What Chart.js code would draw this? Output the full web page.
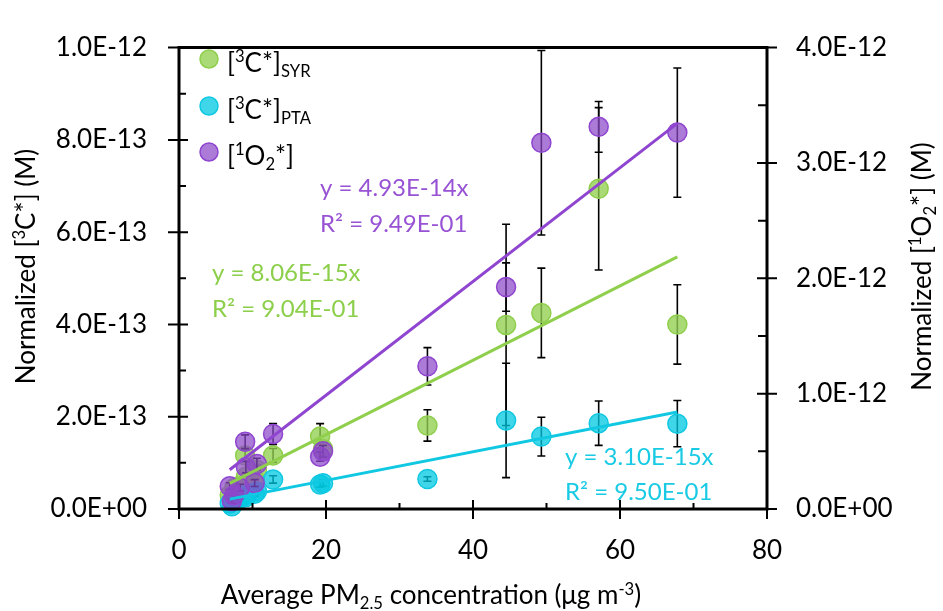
<!DOCTYPE html>
<html><head><meta charset="utf-8">
<script src="https://cdn.jsdelivr.net/npm/chart.js@4.4.1/dist/chart.umd.min.js"></script>
<style>html,body{margin:0;padding:0;background:#fff}</style>
</head><body>
<canvas id="c" width="943" height="611"></canvas>
<script>
// ---------------- DATA ----------------
const pm25   = [6.9, 7.2, 7.5, 8.3, 9.0, 9.1, 10.3, 10.6, 12.8, 19.2, 19.6, 33.8, 44.5, 49.3, 57.1, 67.8];
const c3Syr  = [3.0e-14, 2.0e-14, 4.5e-14, 5.0e-14, 1.16e-13, 7.0e-14, 6.5e-14, 8.5e-14, 1.16e-13, 1.57e-13, 1.30e-13, 1.81e-13, 3.99e-13, 4.25e-13, 6.94e-13, 4.00e-13];
const c3SyrErr = [5e-15, 4e-15, 6e-15, 6e-15, 1.2e-14, 8e-15, 8e-15, 1e-14, 1.5e-14, 2.8e-14, 1.5e-14, 3.4e-14, 2.18e-13, 9.7e-14, 1.76e-13, 8.6e-14];
const c3Pta  = [1.2e-14, 6e-15, 1.8e-14, 2.2e-14, 3.0e-14, 2.6e-14, 3.3e-14, 3.8e-14, 6.4e-14, 5.3e-14, 5.6e-14, 6.5e-14, 1.92e-13, 1.57e-13, 1.86e-13, 1.85e-13];
const c3PtaErr = [3e-15, 2e-15, 4e-15, 4e-15, 5e-15, 5e-15, 5e-15, 6e-15, 8e-15, 6e-15, 6e-15, 5e-15, 1.24e-13, 4.2e-14, 4.8e-14, 5.0e-14];
const o2     = [0.198e-12, 0.07e-12, 0.12e-12, 0.184e-12, 0.583e-12, 0.363e-12, 0.225e-12, 0.39e-12, 0.65e-12, 0.454e-12, 0.50e-12, 1.237e-12, 1.924e-12, 3.175e-12, 3.313e-12, 3.263e-12];
const o2Err  = [0.03e-12, 0.02e-12, 0.03e-12, 0.03e-12, 0.06e-12, 0.05e-12, 0.03e-12, 0.05e-12, 0.09e-12, 0.04e-12, 0.05e-12, 0.162e-12, 0.21e-12, 0.80e-12, 0.22e-12, 0.56e-12];

const fitSlopes = [8.06e-15, 3.10e-15, 4.93e-14];
const fitEqLabels = ['y = 8.06E-15x', 'y = 3.10E-15x', 'y = 4.93E-14x'];
const fitR2Labels = ['R\u00B2 = 9.04E-01', 'R\u00B2 = 9.50E-01', 'R\u00B2 = 9.49E-01'];

const xTickVals = [0, 20, 40, 60, 80];
const xTickLabels = ['0', '20', '40', '60', '80'];
const xMinorVals = [10, 30, 50, 70];
const yTickVals = [0, 2e-13, 4e-13, 6e-13, 8e-13, 1e-12];
const yTickLabels = ['0.0E+00', '2.0E-13', '4.0E-13', '6.0E-13', '8.0E-13', '1.0E-12'];
const yMinorVals = [1e-13, 3e-13, 5e-13, 7e-13, 9e-13];
const y2TickVals = [0, 1e-12, 2e-12, 3e-12, 4e-12];
const y2TickLabels = ['0.0E+00', '1.0E-12', '2.0E-12', '3.0E-12', '4.0E-12'];
const y2MinorVals = [0.5e-12, 1.5e-12, 2.5e-12, 3.5e-12];

// ---------------- STYLE ----------------
const FONT = 'Lato, "Open Sans", sans-serif';
const COL = {
  syr: {fill: 'rgba(146,208,80,0.78)', line: '#8fcf4c', text: '#8ccf4a'},
  pta: {fill: 'rgba(0,200,226,0.75)', line: '#10c8e2', text: '#18cae4'},
  o2:  {fill: 'rgba(140,70,200,0.72)', line: '#8f45d0', text: '#9853d4'}
};

const pts = (xs, ys) => xs.map((x, i) => ({x, y: ys[i]}));
const xMin = Math.min(...pm25), xMax = Math.max(...pm25);
const fitLine = s => [{x: xMin, y: s * xMin}, {x: xMax, y: s * xMax}];

function scatterDs(label, ys, errs, c, axis, order) {
  return {type: 'scatter', label, data: pts(pm25, ys), errors: errs, yAxisID: axis, order,
    pointRadius: 9.5, pointHoverRadius: 9.5, pointBackgroundColor: c.fill, pointBorderColor: c.line,
    pointBorderWidth: 1.5, clip: false};
}
function fitDs(slope, c, axis) {
  return {type: 'line', data: fitLine(slope), yAxisID: axis, order: 0, borderColor: c.line,
    borderWidth: 3, pointRadius: 0, fill: false, clip: false};
}

// ---------------- HELPERS ----------------
function rich(ctx, segs, x, y, size, color, align) {
  let w = 0;
  const parts = segs.map(([t, m]) => {
    const s = m ? size * 0.64 : size;
    ctx.font = s + 'px ' + FONT;
    const tw = ctx.measureText(t).width;
    w += tw;
    return {t, m, s, tw};
  });
  let cx = align === 'center' ? x - w / 2 : x;
  ctx.fillStyle = color; ctx.textAlign = 'left'; ctx.textBaseline = 'alphabetic';
  parts.forEach(p => {
    ctx.font = p.s + 'px ' + FONT;
    const dy = p.m === 'sup' ? -size * 0.36 : p.m === 'sub' ? size * 0.2 : 0;
    ctx.fillText(p.t, cx, y + dy);
    cx += p.tw;
  });
  return w;
}

const errorBars = {
  id: 'errorBars',
  beforeDatasetDraw(chart, args) {
    const ds = chart.data.datasets[args.index];
    if (!ds.errors) return;
    const ctx = chart.ctx, xs = chart.scales.x, ys = chart.scales[ds.yAxisID];
    ctx.save();
    ctx.strokeStyle = '#000'; ctx.lineWidth = 1.6;
    ds.data.forEach((p, i) => {
      const e = ds.errors[i];
      const px = xs.getPixelForValue(p.x);
      const a = ys.getPixelForValue(p.y + e), b = ys.getPixelForValue(p.y - e);
      ctx.beginPath();
      ctx.moveTo(px, a); ctx.lineTo(px, b);
      ctx.moveTo(px - 4, a); ctx.lineTo(px + 4, a);
      ctx.moveTo(px - 4, b); ctx.lineTo(px + 4, b);
      ctx.stroke();
    });
    ctx.restore();
  }
};

const axesDraw = {
  id: 'axesDraw',
  afterDatasetsDraw(chart) {
    const ctx = chart.ctx, a = chart.chartArea;
    const xs = chart.scales.x, ys = chart.scales.y, y2 = chart.scales.y2;
    ctx.save();
    ctx.strokeStyle = '#000';
    ctx.lineWidth = 2;
    ctx.beginPath();
    yTickVals.forEach(v => { const p = ys.getPixelForValue(v); ctx.moveTo(a.left - 11, p); ctx.lineTo(a.left + 9, p); });
    yMinorVals.forEach(v => { const p = ys.getPixelForValue(v); ctx.moveTo(a.left, p); ctx.lineTo(a.left + 7, p); });
    y2TickVals.forEach(v => { const p = y2.getPixelForValue(v); ctx.moveTo(a.right - 10, p); ctx.lineTo(a.right + 10, p); });
    y2MinorVals.forEach(v => { const p = y2.getPixelForValue(v); ctx.moveTo(a.right - 9, p); ctx.lineTo(a.right, p); });
    xTickVals.forEach(v => { const p = xs.getPixelForValue(v); ctx.moveTo(p, a.bottom - 9); ctx.lineTo(p, a.bottom + 10); });
    xMinorVals.forEach(v => { const p = xs.getPixelForValue(v); ctx.moveTo(p, a.bottom - 6); ctx.lineTo(p, a.bottom); });
    ctx.stroke();
    ctx.lineWidth = 3;
    ctx.beginPath();
    ctx.moveTo(a.left, a.top - 1.5); ctx.lineTo(a.left, a.bottom + 1.5);
    ctx.moveTo(a.right, a.top - 1.5); ctx.lineTo(a.right, a.bottom + 1.5);
    ctx.moveTo(a.left, a.bottom); ctx.lineTo(a.right, a.bottom);
    ctx.moveTo(a.left, a.top); ctx.lineTo(a.right, a.top);
    ctx.stroke();
    ctx.restore();
  }
};

const texts = {
  id: 'texts',
  afterDraw(chart) {
    const ctx = chart.ctx;
    ctx.save();
    // legend
    const leg = [
      {c: COL.syr, segs: [['['], ['3', 'sup'], ['C*]'], ['SYR', 'sub']], y: 59},
      {c: COL.pta, segs: [['['], ['3', 'sup'], ['C*]'], ['PTA', 'sub']], y: 106},
      {c: COL.o2,  segs: [['['], ['1', 'sup'], ['O'], ['2', 'sub'], ['*]']], y: 152}
    ];
    leg.forEach(l => {
      ctx.beginPath(); ctx.arc(209, l.y, 9, 0, Math.PI * 2);
      ctx.fillStyle = l.c.fill; ctx.fill();
      ctx.lineWidth = 1.5; ctx.strokeStyle = l.c.line; ctx.stroke();
      rich(ctx, l.segs, 227, l.y + 12.5, 26, '#000', 'left');
    });
    // fit equations
    const eqPos = [[212, 281, 317], [565, 465, 500], [320, 196, 232]];
    const eqCol = [COL.syr.text, COL.pta.text, COL.o2.text];
    eqPos.forEach((p, i) => {
      ctx.font = '24px ' + FONT; ctx.fillStyle = eqCol[i]; ctx.textAlign = 'left'; ctx.textBaseline = 'alphabetic';
      ctx.fillText(fitEqLabels[i], p[0], p[1]);
      ctx.fillText(fitR2Labels[i], p[0], p[2]);
    });
    // axis titles
    rich(ctx, [['Average PM'], ['2.5', 'sub'], [' concentration (\u03BCg m'], ['-3', 'sup'], [')']], 431, 604, 26, '#000', 'center');
    ctx.save(); ctx.translate(25, 266.5); ctx.rotate(-Math.PI / 2);
    rich(ctx, [['Normalized ['], ['3', 'sup'], ['C*] (M)']], 0, 9.5, 26, '#000', 'center');
    ctx.restore();
    ctx.save(); ctx.translate(921, 266.5); ctx.rotate(-Math.PI / 2);
    rich(ctx, [['Normalized ['], ['1', 'sup'], ['O'], ['2', 'sub'], ['*] (M)']], 0, 9.5, 26, '#000', 'center');
    ctx.restore();
    ctx.restore();
  }
};

// ---------------- CHART ----------------
Chart.defaults.font.family = FONT;
const tickFont = {size: 26, family: FONT};
new Chart(document.getElementById('c'), {
  type: 'scatter',
  data: {datasets: [
    scatterDs('[3C*]SYR', c3Syr, c3SyrErr, COL.syr, 'y', 3),
    scatterDs('[3C*]PTA', c3Pta, c3PtaErr, COL.pta, 'y', 2),
    scatterDs('[1O2*]', o2, o2Err, COL.o2, 'y2', 1),
    fitDs(fitSlopes[0], COL.syr, 'y'),
    fitDs(fitSlopes[1], COL.pta, 'y'),
    fitDs(fitSlopes[2], COL.o2, 'y2')
  ]},
  options: {
    responsive: false, animation: false, devicePixelRatio: 1,
    layout: {padding: {top: 24, left: 0, right: 0, bottom: 0}},
    plugins: {legend: {display: false}, tooltip: {enabled: false}},
    scales: {
      x: {type: 'linear', position: 'bottom', min: 0, max: 80,
        grid: {display: false, drawTicks: false}, border: {display: false},
        afterBuildTicks: s => { s.ticks = xTickVals.map(v => ({value: v})); },
        afterFit: s => { s.height = 102; },
        ticks: {font: tickFont, color: '#000', padding: 26, maxRotation: 0,
          callback: (v, i) => xTickLabels[i]}},
      y: {type: 'linear', position: 'left', min: 0, max: 1e-12,
        grid: {display: false, drawTicks: false}, border: {display: false},
        afterBuildTicks: s => { s.ticks = yTickVals.map(v => ({value: v})); },
        afterFit: s => { s.width = 179; },
        ticks: {font: tickFont, color: '#000', padding: 32, callback: (v, i) => yTickLabels[i]}},
      y2: {type: 'linear', position: 'right', min: 0, max: 4e-12,
        grid: {display: false, drawTicks: false}, border: {display: false},
        afterBuildTicks: s => { s.ticks = y2TickVals.map(v => ({value: v})); },
        afterFit: s => { s.width = 176; },
        ticks: {font: tickFont, color: '#000', padding: 29, callback: (v, i) => y2TickLabels[i]}}
    }
  },
  plugins: [errorBars, axesDraw, texts]
});
</script>
</body></html>
